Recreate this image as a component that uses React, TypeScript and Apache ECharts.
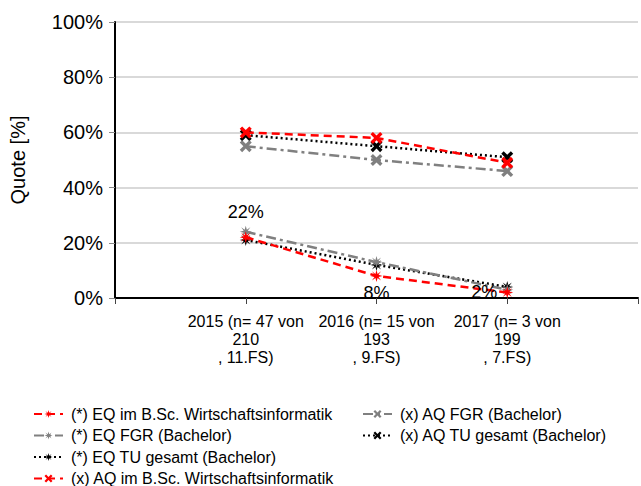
import React, { useEffect, useRef } from "react";
import * as echarts from "echarts";

const categories = [
  "2015 (n= 47 von\n210\n, 11.FS)",
  "2016 (n= 15 von\n193\n, 9.FS)",
  "2017 (n= 3 von\n199\n, 7.FS)",
];
const seriesNames = [
  "(*) EQ im B.Sc. Wirtschaftsinformatik",
  "(*) EQ FGR (Bachelor)",
  "(*) EQ TU gesamt (Bachelor)",
  "(x) AQ im B.Sc. Wirtschaftsinformatik",
  "(x) AQ FGR (Bachelor)",
  "(x) AQ TU gesamt (Bachelor)",
];
const eqWI = [22, 8, 2];
const eqFGR = [24, 13, 3];
const eqTU = [21, 12, 4];
const aqWI = [60, 58, 49];
const aqFGR = [55, 50, 46];
const aqTU = [59, 55, 51];
const yTicks = [0, 20, 40, 60, 80, 100];

const STAR =
  "path://M5,0 L5.9,3.3 L8.8,1.2 L6.7,4.1 L10,5 L6.7,5.9 L8.8,8.8 L5.9,6.7 L5,10 L4.1,6.7 L1.2,8.8 L3.3,5.9 L0,5 L3.3,4.1 L1.2,1.2 L4.1,3.3 Z";
const CROSS =
  "path://M0,2 L2,0 L5,3 L8,0 L10,2 L7,5 L10,8 L8,10 L5,7 L2,10 L0,8 L3,5 Z";

const RED = "#ff0000";
const GRAY = "#808080";
const BLACK = "#000000";

export default function App() {
  const ref = useRef<HTMLDivElement>(null);
  useEffect(() => {
    if (!ref.current) return;
    const chart = echarts.init(ref.current, undefined, { renderer: "svg" });
    const pad = (arr: number[]) => [null, ...arr, null];
    const styles = [
      { color: RED, type: [8, 5], sym: STAR },
      { color: GRAY, type: [10, 4, 3, 4], sym: STAR },
      { color: BLACK, type: [2, 3], sym: STAR },
      { color: RED, type: [8, 5], sym: CROSS },
      { color: GRAY, type: [10, 4, 3, 4], sym: CROSS },
      { color: BLACK, type: [2, 3], sym: CROSS },
    ];
    const datas = [eqWI, eqFGR, eqTU, aqWI, aqFGR, aqTU];
    const labelPos = ["top", "bottom", "left"];
    const labelDist = [10, 2, 4];
    const series = datas.map((d, i) => {
      const s = styles[i];
      let data: any[] = pad(d);
      if (i === 0) {
        data = data.map((v, k) =>
          v === null
            ? null
            : {
                value: v,
                label: {
                  show: true,
                  position: labelPos[k - 1],
                  distance: labelDist[k - 1],
                  formatter: "{c}%",
                  fontSize: 18,
                  color: "#000",
                  fontFamily: "Liberation Sans, Arial, sans-serif",
                },
              }
        );
      }
      return {
        name: seriesNames[i],
        type: "line",
        data,
        symbol: s.sym,
        symbolSize: 12,
        z: 10 - i,
        lineStyle: { color: s.color, width: 2.5, type: s.type },
        itemStyle: { color: s.color },
        connectNulls: false,
      };
    });
    const legendBase = {
      orient: "vertical",
      top: 406,
      height: 100,
      itemWidth: 29,
      itemHeight: 10,
      itemGap: 5.5,
      textStyle: { fontSize: 16, color: "#000", lineHeight: 16, padding: [0, 0, 0, 3] },
      padding: 0,
      selectedMode: false,
    };
    chart.setOption({
      animation: false,
      textStyle: { fontFamily: "Liberation Sans, Arial, sans-serif" },
      grid: { left: 114, top: 22, height: 276, width: 531, containLabel: false },
      xAxis: {
        type: "category",
        boundaryGap: false,
        data: ["", ...categories, ""],
        axisLine: { lineStyle: { color: "#000", width: 2 } },
        axisTick: { show: true, length: 6, lineStyle: { color: "#444", width: 1 } },
        axisLabel: {
          fontSize: 16,
          color: "#000",
          lineHeight: 18,
          margin: 14,
          interval: 0,
        },
        splitLine: { show: false },
      },
      yAxis: {
        type: "value",
        min: yTicks[0],
        max: yTicks[yTicks.length - 1],
        interval: 20,
        name: "Quote [%]",
        nameLocation: "middle",
        nameGap: 87,
        nameTextStyle: { fontSize: 20, color: "#000" },
        axisLine: { show: true, lineStyle: { color: "#000", width: 2 } },
        axisTick: { show: true, length: 6, lineStyle: { color: "#888", width: 1 } },
        axisLabel: { fontSize: 20, color: "#000", formatter: "{value}%", margin: 12 },
        splitLine: { lineStyle: { color: "#d9d9d9", width: 2 } },
      },
      legend: [
        { ...legendBase, data: seriesNames.slice(0, 4), left: 33 },
        { ...legendBase, data: seriesNames.slice(4), left: 362 },
      ],
      series,
    });
    return () => chart.dispose();
  }, []);
  return (
    <div
      ref={ref}
      style={{ width: 641, height: 486, position: "absolute", left: 0, top: 0 }}
    />
  );
}
